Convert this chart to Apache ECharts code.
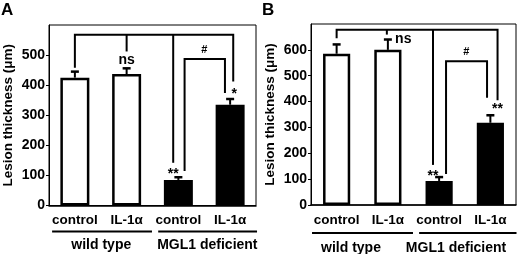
<!DOCTYPE html>
<html>
<head>
<meta charset="utf-8">
<style>
  html, body { margin: 0; padding: 0; background: #fff; }
  #chart { width: 520px; height: 254px; }
</style>
<script src="https://cdn.jsdelivr.net/npm/echarts@6.0.0/dist/echarts.min.js"></script>
</head>
<body>
<div id="chart"></div>
<script>
  // values (lesion thickness, µm)
  const categories = ['control', 'IL-1α', 'control', 'IL-1α'];
  const groups = ['wild type', 'MGL1 deficient'];

  const yTicksA = [0, 100, 200, 300, 400, 500];
  const yTicksB = [0, 100, 200, 300, 400, 500, 600];

  const meanA = [425, 437, 85, 335];
  const errA = [20, 19, 9, 19];
  const meanB = [585, 600, 93, 318];
  const errB = [36, 40, 15, 29];

  // significance brackets, in [category index, value] units
  const bracketsA = [
    [[0, 458], [0, 568], [3.06, 568], [3.06, 412]],
    [[1, 568], [1, 512]],
    [[1.9, 568], [1.9, 142]],
    [[2.12, 115], [2.12, 487], [2.9, 487], [2.9, 374]],
  ];
  const marksA = [['ns', 1, 482], ['**', 1.9, 118], ['*', 3.08, 382], ['#', 2.5, 517]];

  const bracketsB = [
    [[0, 645], [0, 678], [3.14, 678], [3.14, 405]],
    [[0.98, 678], [0.98, 659]],
    [[1.88, 678], [1.88, 155]],
    [[2.135, 120], [2.135, 556], [2.935, 556], [2.935, 415]],
  ];
  const marksB = [['ns', 1.3, 642], ['**', 1.88, 128], ['#', 2.53, 593], ['**', 3.14, 385]];

  // group underline spans and label centres, in category index units
  const spansA = [[-0.44, 1.49], [1.61, 3.52]];
  const labelXA = [0.51, 2.56];
  const spansB = [[-0.48, 1.49], [1.61, 3.51]];
  const labelXB = [0.28, 2.33];

  const fills = ['#ffffff', '#ffffff', '#000000', '#000000'];
  const FONT = 'Liberation Sans, Arial, Helvetica, sans-serif';

  const chart = echarts.init(document.getElementById('chart'));

  // category axis coords are snapped to whole indices, so add the fraction via the band width
  const toPx = (api, x, y) => {
    const p = api.coord([0, y]);
    const band = api.size([1, 0])[0];
    return [p[0] + x * band, p[1]];
  };

  const errorItem = (params, api) => {
    const x = api.value(0);
    const base = api.coord([x, api.value(1)]);
    const tip = api.coord([x, api.value(1) + api.value(2)]);
    return {
      type: 'group',
      children: [
        { type: 'line', shape: { x1: base[0], y1: base[1], x2: tip[0], y2: tip[1] }, style: { stroke: '#000', lineWidth: 2 } },
        { type: 'line', shape: { x1: tip[0] - 4, y1: tip[1], x2: tip[0] + 4, y2: tip[1] }, style: { stroke: '#000', lineWidth: 2.5 } },
      ],
    };
  };

  const makeAnnot = (brackets, marks, spans, labelX, lineDy, labelDy) => (params, api) => {
    const children = [];
    brackets.forEach((b) => {
      children.push({
        type: 'polyline',
        shape: { points: b.map(([x, y]) => toPx(api, x, y)) },
        style: { stroke: '#000', lineWidth: 2, fill: null },
      });
    });
    marks.forEach(([t, x, y]) => {
      const p = toPx(api, x, y);
      const star = t.indexOf('*') >= 0;
      children.push({
        type: 'text',
        style: {
          text: t,
          x: p[0],
          y: p[1] + (star ? 4 : 0),
          font: (t === '#' ? 'bold 11px ' : 'bold 14px ') + FONT,
          textAlign: 'center',
          textVerticalAlign: 'middle',
          fill: '#000',
        },
      });
    });
    spans.forEach(([x0, x1], i) => {
      const a = toPx(api, x0, 0);
      const b = toPx(api, x1, 0);
      children.push({
        type: 'line',
        shape: { x1: a[0], y1: a[1] + lineDy, x2: b[0], y2: b[1] + lineDy },
        style: { stroke: '#000', lineWidth: 2 },
      });
      const c = toPx(api, labelX[i], 0);
      children.push({
        type: 'text',
        style: {
          text: groups[i],
          x: c[0],
          y: c[1] + labelDy,
          font: 'bold 14px ' + FONT,
          textAlign: 'center',
          textVerticalAlign: 'middle',
          fill: '#000',
        },
      });
    });
    return { type: 'group', children };
  };

  const xAxisFor = (gridIndex) => ({
    type: 'category',
    gridIndex,
    data: categories,
    axisLine: { lineStyle: { color: '#000', width: 1.5 } },
    axisTick: { show: false },
    axisLabel: { interval: 0, color: '#000', fontFamily: FONT, fontWeight: 'bold', fontSize: 13.5, margin: 8 },
  });

  const yAxisFor = (gridIndex, ticks, max) => ({
    type: 'value',
    gridIndex,
    min: ticks[0],
    max,
    interval: ticks[1] - ticks[0],
    name: 'Lesion thickness (μm)',
    nameLocation: 'middle',
    nameGap: 34,
    nameTextStyle: { color: '#000', fontFamily: FONT, fontWeight: 'bold', fontSize: 13.5 },
    axisLine: { show: true, lineStyle: { color: '#000', width: 1 } },
    axisTick: { show: true, length: 3, lineStyle: { color: '#000', width: 1 } },
    axisLabel: { showMaxLabel: false, color: '#000', fontFamily: FONT, fontWeight: 'bold', fontSize: 14, margin: 4 },
    splitLine: { show: false },
  });

  const barFor = (idx, means, width) => ({
    type: 'bar',
    xAxisIndex: idx,
    yAxisIndex: idx,
    barWidth: width,
    data: means.map((v, i) => ({ value: v, itemStyle: { color: fills[i] } })),
    itemStyle: { borderColor: '#000', borderWidth: 2.5 },
    silent: true,
  });

  const option = {
    animation: false,
    backgroundColor: '#fff',
    textStyle: { fontFamily: FONT },
    title: [
      { text: 'A', left: 1, top: 2, padding: 0, textStyle: { fontSize: 17, fontWeight: 'bold', color: '#000', fontFamily: FONT } },
      { text: 'B', left: 262, top: 2, padding: 0, textStyle: { fontSize: 17, fontWeight: 'bold', color: '#000', fontFamily: FONT } },
    ],
    grid: [
      { left: 47, top: 25, width: 209, height: 180.5, show: true, borderColor: '#000', borderWidth: 1 },
      { left: 311, top: 24, width: 205, height: 181, show: true, borderColor: '#000', borderWidth: 1 },
    ],
    xAxis: [xAxisFor(0), xAxisFor(1)],
    yAxis: [yAxisFor(0, yTicksA, 600), yAxisFor(1, yTicksB, 700)],
    series: [
      barFor(0, meanA, '56%'),
      barFor(1, meanB, '53%'),
      {
        type: 'custom',
        xAxisIndex: 0,
        yAxisIndex: 0,
        renderItem: errorItem,
        data: meanA.map((v, i) => [i, v, errA[i]]),
        z: 3,
      },
      {
        type: 'custom',
        xAxisIndex: 1,
        yAxisIndex: 1,
        renderItem: errorItem,
        data: meanB.map((v, i) => [i, v, errB[i]]),
        z: 3,
      },
      {
        type: 'custom',
        xAxisIndex: 0,
        yAxisIndex: 0,
        clip: false,
        renderItem: makeAnnot(bracketsA, marksA, spansA, labelXA, 26, 39.5),
        data: [[0, 0]],
        z: 4,
      },
      {
        type: 'custom',
        xAxisIndex: 1,
        yAxisIndex: 1,
        clip: false,
        renderItem: makeAnnot(bracketsB, marksB, spansB, labelXB, 28, 43),
        data: [[0, 0]],
        z: 4,
      },
    ],
  };

  chart.setOption(option);
</script>
</body>
</html>
